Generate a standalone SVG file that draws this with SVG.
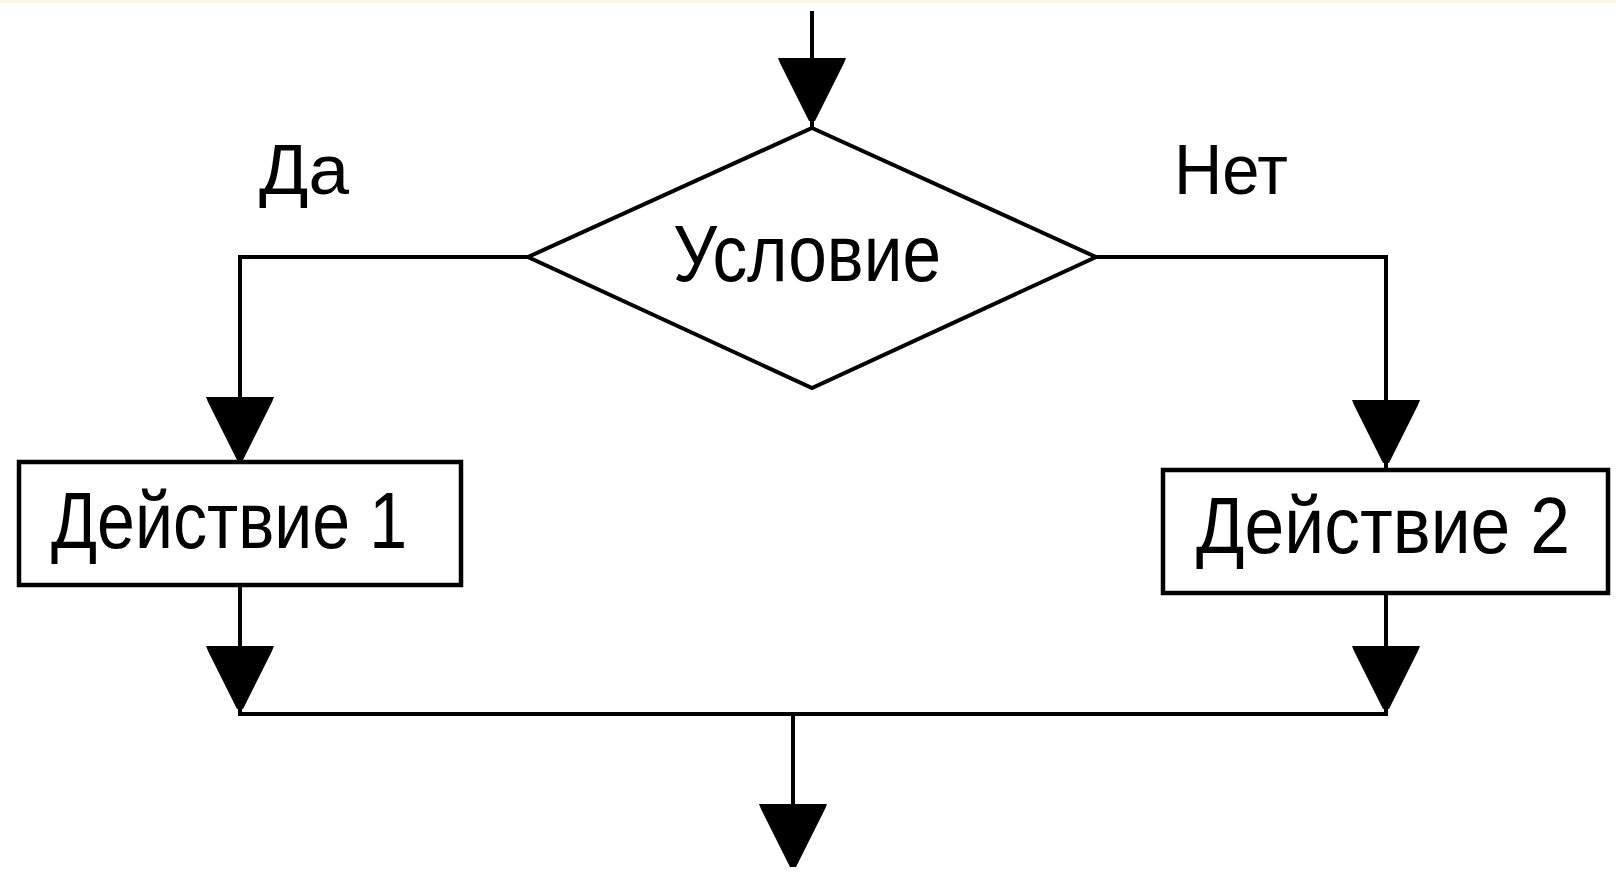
<svg xmlns="http://www.w3.org/2000/svg" xmlns:xlink="http://www.w3.org/1999/xlink" width="1616" height="875" viewBox="0 0 1616 875">
  <style>
    .shape { fill: #ffffff; stroke: #000000; stroke-width: 4.5; }
    .diamond { fill: #ffffff; stroke: #000000; stroke-width: 4; stroke-linejoin: miter; }
    .wire { fill: none; stroke: #000000; stroke-width: 4; stroke-linecap: square; }
    .head { fill: #000000; }
    .label { font-family: "Liberation Sans", Arial, sans-serif; font-size: 80px; fill: #000000; }
    .branch { font-family: "Liberation Sans", Arial, sans-serif; font-size: 70px; fill: #000000; }
  </style>
  <defs>
    <!-- downward filled arrowhead, origin at the middle of its flat top -->
    <path id="ah" d="M -34 0 L 34 0 L 32 5 L 3 63 L -3 63 L -32 5 Z"/>
  </defs>

  <rect x="0" y="0" width="1616" height="875" fill="#ffffff"/>
  <rect x="0" y="0" width="1616" height="3" fill="#f9f7e3"/>

  <g id="connectors">
    <!-- entry -->
    <line class="wire" x1="812" y1="13" x2="812" y2="128"/>
    <use class="head" href="#ah" x="812" y="58"/>
    <!-- yes branch -->
    <polyline class="wire" points="528,257 240,257 240,462"/>
    <use class="head" href="#ah" x="240" y="397"/>
    <line class="wire" x1="240" y1="585" x2="240" y2="714"/>
    <use class="head" href="#ah" x="240" y="646"/>
    <!-- no branch -->
    <polyline class="wire" points="1096,257 1386,257 1386,470"/>
    <use class="head" href="#ah" x="1386" y="400"/>
    <line class="wire" x1="1386" y1="593" x2="1386" y2="714"/>
    <use class="head" href="#ah" x="1386" y="646"/>
    <!-- merge and exit -->
    <line class="wire" x1="240" y1="714" x2="1386" y2="714"/>
    <line class="wire" x1="793" y1="714" x2="793" y2="806"/>
    <use class="head" href="#ah" x="793" y="804"/>
    <!-- branch labels -->
    <text class="branch" x="259" y="194" textLength="90" lengthAdjust="spacingAndGlyphs">Да</text>
    <text class="branch" x="1174" y="194" textLength="114" lengthAdjust="spacingAndGlyphs">Нет</text>
  </g>

  <g id="condition">
    <polygon class="diamond" points="812,128 1096,257 812,388 528,257"/>
    <text class="label" x="673" y="281" textLength="268" lengthAdjust="spacingAndGlyphs">Условие</text>
  </g>

  <g id="action1">
    <rect class="shape" x="19" y="462" width="442" height="123"/>
    <text class="label" x="51" y="548" textLength="356" lengthAdjust="spacingAndGlyphs">Действие 1</text>
  </g>

  <g id="action2">
    <rect class="shape" x="1163" y="470" width="445" height="123"/>
    <text class="label" x="1196" y="553" textLength="374" lengthAdjust="spacingAndGlyphs">Действие 2</text>
  </g>
</svg>
